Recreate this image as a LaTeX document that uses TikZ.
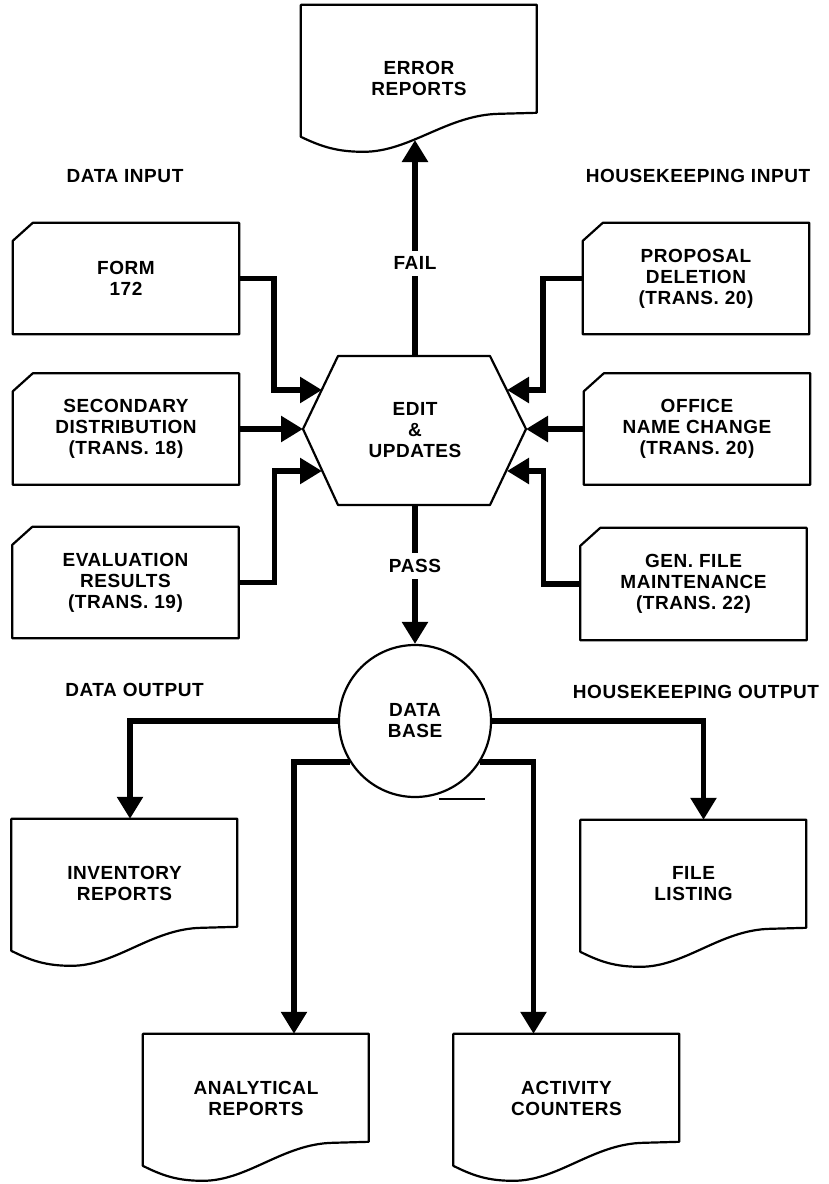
\documentclass[tikz,border=0pt]{standalone}
\usepackage{fontspec}
\setmainfont{Liberation Sans}[LetterSpace=3]
\usetikzlibrary{arrows.meta}
\tikzset{
 outline/.style={line width=2.2pt, line join=round},
 conn/.style={line width=5.5pt, -{Triangle[length=22pt,width=25pt]}},
 lbl/.style={font=\fontsize{19}{21}\selectfont\bfseries, align=center, inner sep=0pt},
 cardn/.style={lbl, minimum width=226pt, minimum height=111pt},
 docn/.style={lbl, minimum width=226pt, minimum height=128pt},
 gap/.style={lbl, fill=white, inner xsep=3pt, inner ysep=6pt},
}
\newcommand\mycard[5][]{%
 \node[cardn,#1] (#2) at (#3,#4) {#5};
 \draw[outline] ([yshift=-18pt]#2.north west) -- ([xshift=20pt]#2.north west)
   -- (#2.north east) -- (#2.south east) -- (#2.south west) -- cycle;}
\newcommand\mydoc[6][226]{%
 \node[docn,#2] (#3) at (#4,#5) {#6};
 \begin{scope}[shift={(#3.north west)}, xscale=#1/226]
 \draw[outline] (0,132) -- (0,0) -- (226,0) -- (226,108) -- (190,109)
   .. controls (140,110) and (105,147) .. (60,147)
   .. controls (35,147) and (20,142) .. (0,132) -- cycle;
 \end{scope}}
\begin{document}
\begin{tikzpicture}[x=1pt,y=-1pt]
\useasboundingbox[fill=white] (0,0) rectangle (829,1184);

% section labels
\node[lbl] (lin)  at (125,176) {DATA INPUT};
\node[lbl] (lhin) at (698,176) {HOUSEKEEPING INPUT};
\node[lbl] (lout) at (134.5,690) {DATA OUTPUT};
\node[lbl] (lhout) at (696,692) {HOUSEKEEPING OUTPUT};

% error reports
\mydoc[236]{minimum width=236pt, minimum height=146pt}{err}{419}{78}{ERROR\\REPORTS}
\coordinate (errtip) at (415,140);

% input cards
\mycard{form}{126}{278.5}{FORM\\172}
\mycard{sec}{126}{429}{SECONDARY\\DISTRIBUTION\\(TRANS. 18)}
\mycard{eval}{125.5}{582.5}{EVALUATION\\RESULTS\\(TRANS. 19)}
\mycard{prop}{696}{278.5}{PROPOSAL\\DELETION\\(TRANS. 20)}
\mycard{off}{697}{429}{OFFICE\\NAME CHANGE\\(TRANS. 20)}
\mycard[minimum height=112pt]{gen}{693.5}{584}{GEN. FILE\\MAINTENANCE\\(TRANS. 22)}

% hexagon
\node[lbl] (edit) at (415,430) {EDIT\\\&\\UPDATES};
\draw[outline] (338,356) -- (490,356) -- (526,429) -- (490,505) -- (338,505) -- (303,429) -- cycle;
\coordinate (htop) at (415,356);
\coordinate (hbot) at (415,505);
\coordinate (hul) at (322,390);
\coordinate (hl) at (303,429);
\coordinate (hll) at (322,471);
\coordinate (hur) at (507,390);
\coordinate (hr) at (526,429);
\coordinate (hlr) at (507,471);

% data base
\node[lbl, draw, line width=2.2pt, circle, minimum size=152pt] (db) at (415,721) {DATA\\BASE};
\draw[line width=2pt] ([xshift=24pt,yshift=-1pt]db.south) -- ++(46,0);

% output documents
\mydoc{}{inv}{124.5}{883}{INVENTORY\\REPORTS}
\mydoc{}{fl}{693.5}{884}{FILE\\LISTING}
\mydoc{}{ana}{256}{1098}{ANALYTICAL\\REPORTS}
\mydoc{}{act}{566.5}{1098}{ACTIVITY\\COUNTERS}

% connectors
\draw[conn] (htop) -- node[gap, pos=0.43] {FAIL} (errtip);
\draw[conn] (hbot) -- node[gap, pos=0.44] {PASS} (db.north);

\draw[conn] (form.east) -- ++(35,0) |- (hul);
\draw[conn] (sec.east) -- (hl);
\draw[conn] (eval.east) -- ++(36,0) |- (hll);
\draw[conn] (prop.west) -- ++(-40,0) |- (hur);
\draw[conn] (off.west) -- (hr);
\draw[conn] (gen.west) -- ++(-37,0) |- (hlr);

\draw[conn] (db.west) -| ([xshift=5.5pt]inv.north);
\draw[conn] (db.212) -| ([xshift=38pt]ana.north);
\draw[conn] (db.-32) -| ([xshift=-33pt]act.north);
\draw[conn] (db.east) -| ([xshift=10pt]fl.north);
\end{tikzpicture}
\end{document}
